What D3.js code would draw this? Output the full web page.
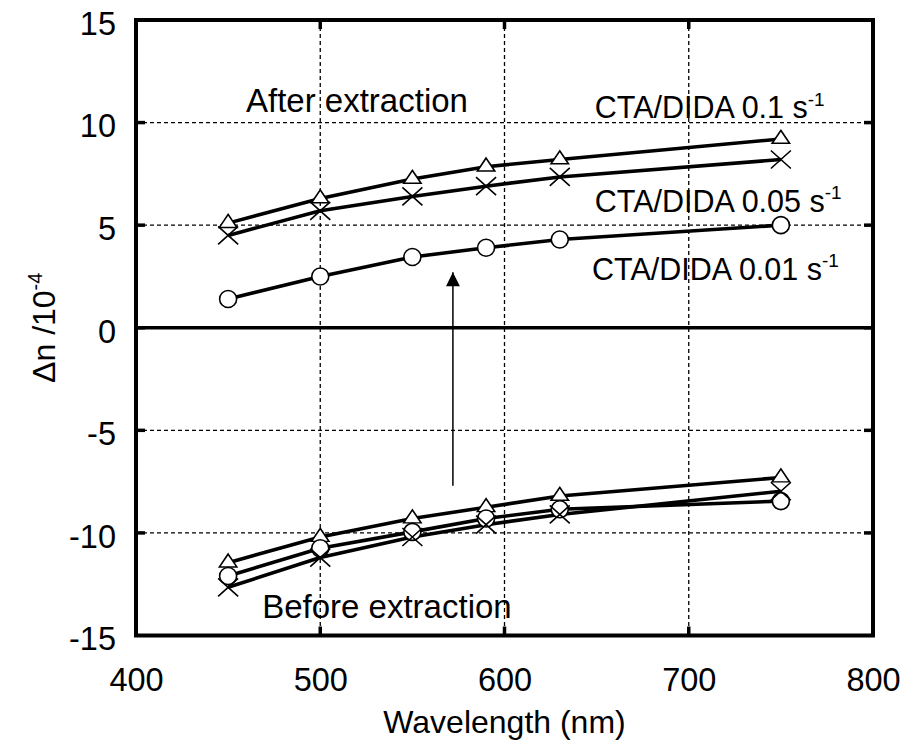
<!DOCTYPE html>
<html>
<head>
<meta charset="utf-8">
<script src="https://cdn.jsdelivr.net/npm/d3@7"></script>
<style>
  html, body { margin: 0; padding: 0; background: #fff; }
  svg { display: block; font-family: "Liberation Sans", Arial, Helvetica, sans-serif; }
</style>
</head>
<body>
<svg id="chart" width="922" height="749"></svg>
<script>
// Wavelengths (nm) at which birefringence was measured
const wavelengths = [450, 500, 550, 590, 630, 750];

// Birefringence Δn (×10^-4) after extraction
const after01  = [5.1, 6.3, 7.25, 7.85, 8.2, 9.2];   // 0.1 s^-1, triangles
const after005 = [4.5, 5.7, 6.4, 6.9, 7.35, 8.2];    // 0.05 s^-1, crosses
const after001 = [1.4, 2.5, 3.45, 3.9, 4.3, 5.0];    // 0.01 s^-1, circles

// Birefringence Δn (×10^-4) before extraction
const before01  = [-11.45, -10.2, -9.3, -8.75, -8.2, -7.3];
const before005 = [-12.65, -11.2, -10.2, -9.6, -9.1, -7.97];
const before001 = [-12.1, -10.75, -9.95, -9.3, -8.85, -8.45];

// Axis ticks
const xTicks = [400, 500, 600, 700, 800];
const yTicks = [-15, -10, -5, 0, 5, 10, 15];
const xGrid = [500, 600, 700];
const yGrid = [-10, -5, 5, 10];

// Arrow from the "before" curves towards the "after" curves
const arrowX = 572, arrowFrom = -7.7, arrowTo = 2.7;

const series = [
  { values: after01,  marker: "triangle" },
  { values: after005, marker: "cross" },
  { values: after001, marker: "circle" },
  { values: before01,  marker: "triangle" },
  { values: before001, marker: "circle" },
  { values: before005, marker: "cross" }
];

const svg = d3.select("#chart");
const plotL = 136, plotR = 873, plotT = 20, plotB = 635.5;

const x = d3.scaleLinear().domain([400, 800]).range([plotL, plotR]);
const y = d3.scaleLinear().domain([-15, 15]).range([plotB, plotT]);

// Dashed grid
svg.append("g").selectAll("line").data(xGrid).join("line")
  .attr("x1", d => x(d)).attr("x2", d => x(d))
  .attr("y1", plotT).attr("y2", plotB)
  .attr("stroke", "#000").attr("stroke-width", 1.3).attr("stroke-dasharray", "4,3");
svg.append("g").selectAll("line").data(yGrid).join("line")
  .attr("x1", plotL).attr("x2", plotR)
  .attr("y1", d => y(d)).attr("y2", d => y(d))
  .attr("stroke", "#000").attr("stroke-width", 1.3).attr("stroke-dasharray", "4,3");

// Zero line
svg.append("line")
  .attr("x1", plotL).attr("x2", plotR).attr("y1", y(0)).attr("y2", y(0))
  .attr("stroke", "#000").attr("stroke-width", 3.5);

// Inward tick marks on all four sides
const tk = 9;
const tickG = svg.append("g").attr("stroke", "#000").attr("stroke-width", 3.5);
yTicks.slice(1, -1).forEach(v => {
  tickG.append("line").attr("x1", plotL).attr("x2", plotL + tk).attr("y1", y(v)).attr("y2", y(v));
  tickG.append("line").attr("x1", plotR).attr("x2", plotR - tk).attr("y1", y(v)).attr("y2", y(v));
});
xTicks.slice(1, -1).forEach(v => {
  tickG.append("line").attr("x1", x(v)).attr("x2", x(v)).attr("y1", plotB).attr("y2", plotB - tk);
  tickG.append("line").attr("x1", x(v)).attr("x2", x(v)).attr("y1", plotT).attr("y2", plotT + tk);
});

// Axis labels via d3 axes (lines hidden, frame drawn separately); plain hyphen for negatives
const plain = d => String(d);
const xAxis = svg.append("g").attr("transform", `translate(0,${plotB})`)
  .call(d3.axisBottom(x).tickValues(xTicks).tickFormat(plain).tickSize(0).tickPadding(32));
const yAxis = svg.append("g").attr("transform", `translate(${plotL},0)`)
  .call(d3.axisLeft(y).tickValues(yTicks).tickFormat(plain).tickSize(0).tickPadding(20));
[xAxis, yAxis].forEach(a => {
  a.select(".domain").remove();
  a.selectAll("text").attr("font-size", 32.5).attr("fill", "#000")
    .attr("font-family", "'Liberation Sans', Arial, sans-serif");
});
yAxis.selectAll("text").attr("dy", "0.44em");

// Frame
svg.append("rect").attr("x", plotL).attr("y", plotT)
  .attr("width", plotR - plotL).attr("height", plotB - plotT)
  .attr("fill", "none").attr("stroke", "#000").attr("stroke-width", 4);

// Curves
const line = d3.line().x((d, i) => x(wavelengths[i])).y(d => y(d));
svg.append("g").selectAll("path").data(series).join("path")
  .attr("d", d => line(d.values))
  .attr("fill", "none").attr("stroke", "#000").attr("stroke-width", 3.6)
  .attr("stroke-linejoin", "round");

// Markers
const triSym = d3.symbol().type(d3.symbolTriangle).size(120);
const mk = svg.append("g");
series.forEach(s => {
  s.values.forEach((v, i) => {
    const cx = x(wavelengths[i]), cy = y(v);
    if (s.marker === "circle") {
      mk.append("circle").attr("cx", cx).attr("cy", cy).attr("r", 8.5)
        .attr("fill", "#fff").attr("stroke", "#000").attr("stroke-width", 1.6);
    } else if (s.marker === "triangle") {
      mk.append("path").attr("d", triSym()).attr("transform", `translate(${cx},${cy}) scale(1.05,0.9)`)
        .attr("fill", "#fff").attr("stroke", "#000").attr("stroke-width", 1.6);
    } else {
      const h = 10, v2 = 9;
      mk.append("path").attr("d", `M${cx - h},${cy - v2}L${cx + h},${cy + v2}M${cx - h},${cy + v2}L${cx + h},${cy - v2}`)
        .attr("stroke", "#000").attr("stroke-width", 1.6).attr("fill", "none");
    }
  });
});

// Arrow
svg.append("defs").append("marker").attr("id", "head")
  .attr("viewBox", "0 0 10 10").attr("refX", 10).attr("refY", 5)
  .attr("markerUnits", "userSpaceOnUse").attr("markerWidth", 19).attr("markerHeight", 14)
  .attr("orient", "auto")
  .append("path").attr("d", "M0,0L10,5L0,10Z").attr("fill", "#000");
svg.append("line")
  .attr("x1", x(arrowX)).attr("x2", x(arrowX))
  .attr("y1", y(arrowFrom)).attr("y2", y(arrowTo))
  .attr("stroke", "#000").attr("stroke-width", 1.5).attr("marker-end", "url(#head)");

// Annotations
function label(text, sup, wx, wy, size) {
  const t = svg.append("text").attr("x", x(wx)).attr("y", y(wy))
    .attr("font-size", size).attr("fill", "#000").text(text);
  if (sup) {
    t.append("tspan").attr("font-size", size * 0.62).attr("dy", -size * 0.42).text(sup);
  }
}
label("After extraction", null, 459.7, 10.5, 33);
label("Before extraction", null, 468.5, -14.15, 33);
label("CTA/DIDA 0.1 s", "-1", 649, 10.2, 30.5);
label("CTA/DIDA 0.05 s", "-1", 649, 5.65, 30.5);
label("CTA/DIDA 0.01 s", "-1", 647.5, 2.35, 30.5);

// Axis titles
svg.append("text").attr("x", (plotL + plotR) / 2).attr("y", 733)
  .attr("text-anchor", "middle").attr("font-size", 32).attr("fill", "#000")
  .text("Wavelength (nm)");
const yt = svg.append("text").attr("transform", `translate(55,${y(0)}) rotate(-90)`)
  .attr("text-anchor", "middle").attr("font-size", 32).attr("fill", "#000");
yt.append("tspan").text("Δn /10");
yt.append("tspan").attr("font-size", 20).attr("dy", -13).text("-4");
</script>
</body>
</html>
